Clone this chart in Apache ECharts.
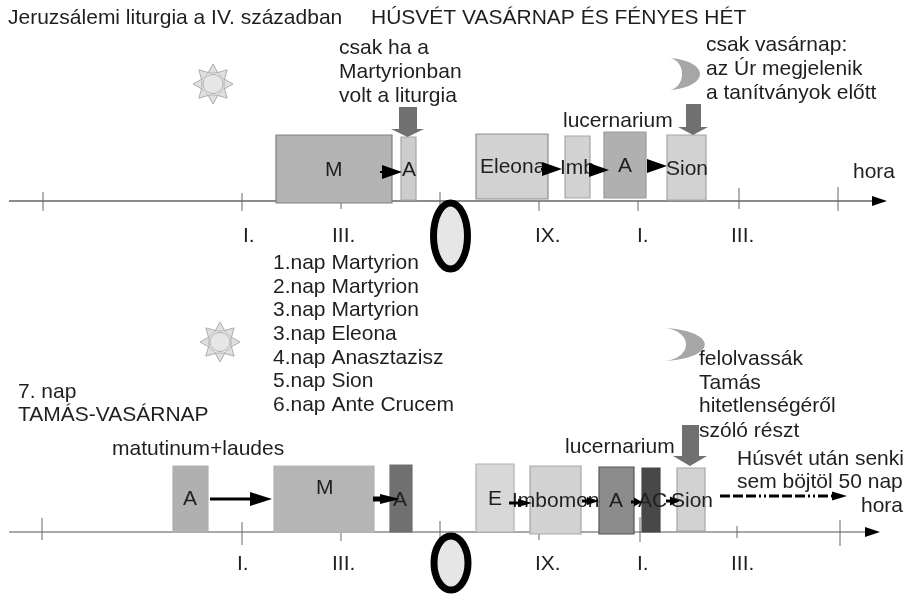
<!DOCTYPE html>
<html>
<head>
<meta charset="utf-8">
<style>html,body{margin:0;padding:0;background:#fff}#c{width:908px;height:595px}</style>
<script src="https://cdn.jsdelivr.net/npm/echarts@6/dist/echarts.min.js"></script>
</head>
<body>
<div id="c"></div>
<script>
// timeline rows: [x start, x end, y]
const axisLines = [[9, 873, 201], [9, 867, 532]];
const axisHeads = [[887, 201, 15, 10], [880, 532, 15, 10]];
// hour ticks: [x, y top, y bottom]
const hourTicks = [
  [43,192,211],[242,193,211],[341,203,209],[440,192,205],[539,201,211],[638,201,211],[739,188,209],[838,187,211],
  [42,518,540],[242,522,545],[341,533,541],[440,521,538],[539,533,540],[640,517,542],[737,526,538],[840,520,546]
];
const hourLabels = [
  ['I.',243,236],['III.',332,236],['IX.',535,236],['I.',637,236],['III.',731,236],
  ['I.',237,564],['III.',332,564],['IX.',535,564],['I.',637,564],['III.',731,564]
];
// services: [x0, x1, y0, y1]
const serviceSpans = [
  [276,392,135,203],[401,416,137,200],[476,548,134,199],[565,590,136,198],[604,646,132,198],[667,706,135,200],
  [173,208,466,532],[274,374,466,532],[390,412,465,532],[476,514,464,532],[530,581,466,534],[599,634,467,534],[642,660,468,532],[677,705,468,531]
];
const serviceLabels = [
  ['M',325,170],['A',402,170],['Eleona',480,167],['Imb',560,168],['A',618,166],['Sion',666,169],
  ['A',183,499],['M',316,488],['A',393,500],['E',488,499],['Imbomon',512,501],['A',609,501],['AC',638,501],['Sion',671,501]
];
// transitions: [x start, x tip, y, head length, head height, line width]
const moveArrows = [
  [380,402,172,20,14,2],[541,562,169,20,14,2],[589,609,170,20,14,2],[647,667,166,20,14,2],
  [210,272,499,22,14,3],[373,400,499,20,10,5],[509,532,503,14,8,3],[582,599,501,12,8,3],[631,642,502,8,9,3],[666,680,501,10,9,3]
];
const fastArrow = [[720,847,496,15,9,3]];
// big pointers: [x shaft0, x shaft1, y top, y neck, x head0, x head1, y tip]
const pointers = [
  [399,417,107,129,391,424,137],[686,701,104,127,678,708,135],[682,699,425,456,673,707,466]
];
// [cx, cy, rx, ry]
const suns = [[213,84,10,9.5],[220,342,10,9.5]];
const sunRays = [0,45,90,135,180,225,270,315];
// [tip x, top y, bottom y, outer pull, inner pull]
const moons = [[670,58,90,40,16],[665,328,361,53,28]];
const midnights = [[450.5,236,17,33],[451,563,17,27]];

const headerTexts = [['Jeruzsálemi liturgia a IV. században',8,18],['HÚSVÉT VASÁRNAP ÉS FÉNYES HÉT',371,18]];
const noteOnlyMartyrion = [['csak ha a',339,48],['Martyrionban',339,72],['volt a liturgia',339,96]];
const noteOnlySunday = [['csak vasárnap:',706,45],['az Úr megjelenik',706,69],['a tanítványok előtt',706,93]];
const noteThomas = [['felolvassák',699,359],['Tamás',699,383],['hitetlenségéről',699,406],['szóló részt',699,431]];
const noteFast = [['Húsvét után senki',737,459],['sem böjtöl 50 nap',737,482]];
const dayList = [['1.nap Martyrion',273,263],['2.nap Martyrion',273,287],['3.nap Martyrion',273,310],['3.nap Eleona',273,334],['4.nap Anasztazisz',273,358],['5.nap Sion',273,381],['6.nap Ante Crucem',273,405]];
const sideTexts = [['lucernarium',563,121],['hora',853,172],['7. nap',18,392],['TAMÁS-VASÁRNAP',18,415],['matutinum+laudes',112,449],['lucernarium',565,447],['hora',861,506]];

// styles, by service index
const spanFill = ['#b3b3b3','#cccccc','#d2d2d2','#d2d2d2','#b0b0b0','#d2d2d2','#b0b0b0','#b5b5b5','#707070','#d8d8d8','#d2d2d2','#8c8c8c','#484848','#d2d2d2'];
const spanEdge = ['#808080','#a6a6a6','#8c8c8c','#a6a6a6','#999999','#a6a6a6','#b0b0b0','#b5b5b5','#707070','#b0b0b0','#a6a6a6','#555555','#484848','#a6a6a6'];
const FONT = '"Liberation Sans", Arial, sans-serif';
const INK = '#1f1f1f';
const TEXT_SIZE = 21;

const chart = echarts.init(document.getElementById('c'));

function poly(api, pts, style) {
  return { type: 'polygon', shape: { points: pts.map(p => api.coord(p)) }, style };
}
function seg(api, a, b, stroke, lineWidth, lineDash) {
  const p = api.coord(a), q = api.coord(b);
  return { type: 'line', shape: { x1: p[0], y1: p[1], x2: q[0], y2: q[1] }, style: { stroke, lineWidth, lineDash: lineDash || null } };
}
function ell(api, c, rx, ry, style) {
  const p = api.coord(c);
  return { type: 'ellipse', shape: { cx: p[0], cy: p[1], rx, ry }, style };
}
function layer(name, rows, render, z) {
  return {
    type: 'custom', name, coordinateSystem: 'cartesian2d', silent: true, clip: false, z: z,
    encode: { x: 0, y: 1 },
    data: rows.map((r, i) => [r[0], r[1], i]),
    renderItem: (params, api) => render(rows[params.dataIndex], params.dataIndex, api)
  };
}
function textLayer(name, rows, size, z) {
  return {
    type: 'custom', name, coordinateSystem: 'cartesian2d', silent: true, clip: false, z: z,
    encode: { x: 0, y: 1 },
    data: rows.map(r => [r[1], r[2]]),
    renderItem: (params, api) => {
      const r = rows[params.dataIndex], p = api.coord([r[1], r[2]]);
      return { type: 'text', style: { text: r[0], x: p[0], y: p[1], fill: INK, font: size + 'px ' + FONT, textAlign: 'left', textVerticalAlign: 'middle', verticalAlign: 'middle' } };
    }
  };
}
function arrowShape(r, api, dash) {
  const [x0, x1, y, hl, hh, lw] = r;
  return { type: 'group', children: [
    seg(api, [x0, y], [x1 - hl + 1, y], '#000', lw, dash),
    poly(api, [[x1 - hl, y - hh / 2], [x1, y], [x1 - hl, y + hh / 2]], { fill: '#000' })
  ] };
}

chart.setOption({
  animation: false,
  backgroundColor: '#ffffff',
  grid: { left: 0, right: 0, top: 0, bottom: 0 },
  xAxis: { type: 'value', min: 0, max: 908, show: false },
  yAxis: { type: 'value', min: 0, max: 595, inverse: true, show: false },
  series: [
    layer('axis', axisLines, (r, i, api) => seg(api, [r[0], r[2]], [r[1], r[2]], i ? '#555555' : '#8c8c8c', i ? 1.2 : 2), 1),
    layer('axisHead', axisHeads, (r, i, api) => poly(api, [[r[0] - r[2], r[1] - r[3] / 2], [r[0], r[1]], [r[0] - r[2], r[1] + r[3] / 2]], { fill: '#000' }), 1),
    layer('ticks', hourTicks, (r, i, api) => seg(api, [r[0], r[1]], [r[0], r[2]], '#666666', 1), 1),
    layer('services', serviceSpans, (r, i, api) => {
      const a = api.coord([r[0], r[2]]), b = api.coord([r[1], r[3]]);
      return { type: 'rect', shape: { x: a[0], y: a[1], width: b[0] - a[0], height: b[1] - a[1] }, style: { fill: spanFill[i], stroke: spanEdge[i], lineWidth: 1.2 } };
    }, 2),
    layer('pointers', pointers, (r, i, api) => poly(api, [[r[0], r[2]], [r[1], r[2]], [r[1], r[3]], [r[5], r[3]], [(r[4] + r[5]) / 2, r[6]], [r[4], r[3]], [r[0], r[3]]], { fill: '#707070' }), 3),
    layer('suns', suns, (r, i, api) => {
      const kids = sunRays.map(d => {
        const t = d * Math.PI / 180, c = Math.cos(t), s = Math.sin(t);
        return poly(api, [[r[0] + c * 20, r[1] + s * 20], [r[0] + c * 11 - s * 5, r[1] + s * 11 + c * 5], [r[0] + c * 11 + s * 5, r[1] + s * 11 - c * 5]], { fill: '#e0e0e0', stroke: '#adadad', lineWidth: 1 });
      });
      kids.push(ell(api, [r[0], r[1]], r[2], r[3], { fill: '#e6e6e6', stroke: '#adadad', lineWidth: 1 }));
      return { type: 'group', children: kids };
    }, 3),
    layer('moons', moons, (r, i, api) => {
      const [x, y0, y1, out, inn] = r, pts = [], h = y1 - y0, n = 24;
      const bez = (t, pull) => {
        const u = 1 - t;
        return [x + 3 * t * u * pull, u * u * u * y0 + 3 * u * u * t * (y0 + h * 0.1) + 3 * u * t * t * (y1 - h * 0.1) + t * t * t * y1];
      };
      for (let k = 0; k <= n; k++) pts.push(bez(k / n, out));
      for (let k = n - 1; k > 0; k--) pts.push(bez(k / n, inn));
      return poly(api, pts, { fill: '#a6a6a6' });
    }, 3),
    layer('midnights', midnights, (r, i, api) => ell(api, [r[0], r[1]], r[2], r[3], { fill: '#e6e6e6', stroke: '#000', lineWidth: 7 }), 3),
    textLayer('hours', hourLabels, TEXT_SIZE, 4),
    textLayer('serviceNames', serviceLabels, TEXT_SIZE, 4),
    textLayer('header', headerTexts, TEXT_SIZE, 4),
    textLayer('noteMartyrion', noteOnlyMartyrion, TEXT_SIZE, 4),
    textLayer('noteSunday', noteOnlySunday, TEXT_SIZE, 4),
    textLayer('noteThomas', noteThomas, TEXT_SIZE, 4),
    textLayer('noteFast', noteFast, TEXT_SIZE, 4),
    textLayer('days', dayList, TEXT_SIZE, 4),
    textLayer('side', sideTexts, TEXT_SIZE, 4),
    layer('moves', moveArrows, (r, i, api) => arrowShape(r, api), 5),
    layer('fastLine', fastArrow, (r, i, api) => arrowShape(r, api, [10, 3, 10, 3, 10, 3, 2, 3, 2, 3]), 5)
  ]
});
</script>
</body>
</html>
